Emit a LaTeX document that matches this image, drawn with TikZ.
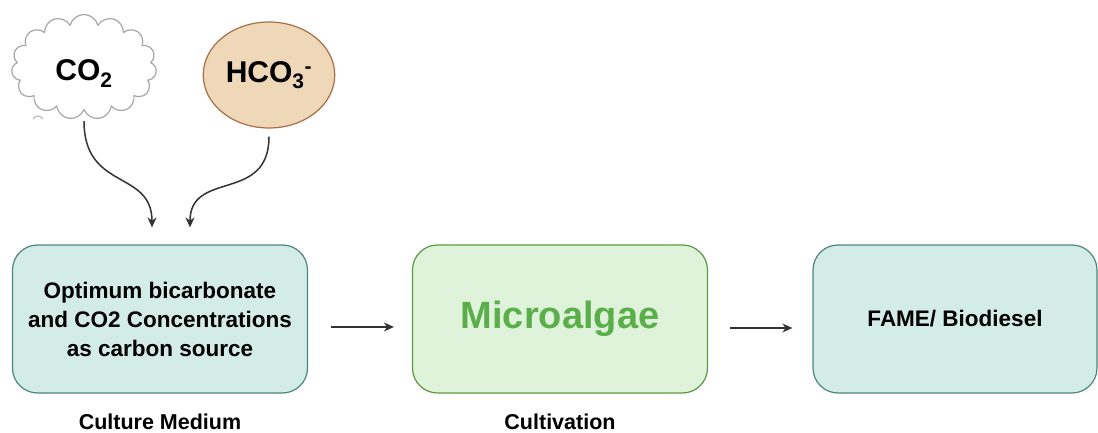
\documentclass[tikz,border=0pt]{standalone}
\usepackage{fontspec}
\setmainfont{Liberation Sans}
\usetikzlibrary{shapes.symbols, shapes.geometric, arrows.meta}

\definecolor{tealfill}{HTML}{D4ECE8}
\definecolor{tealline}{HTML}{4B877C}
\definecolor{algfill}{HTML}{DFF3DA}
\definecolor{algline}{HTML}{5A9A44}
\definecolor{algtext}{HTML}{5BAF4B}
\definecolor{ionfill}{HTML}{EED8B8}
\definecolor{ionline}{HTML}{A86E45}
\definecolor{arrowgray}{HTML}{333333}

\begin{document}
\begin{tikzpicture}[x=1pt, y=-1pt, node distance=400pt]
\tikzstyle{box} = [rectangle, rounded corners=25pt, draw=tealline, fill=tealfill, line width=1.2pt, minimum width=295pt, minimum height=148pt, align=center, font=\bfseries\fontsize{22.5}{29}\selectfont]
\tikzstyle{caption} = [font=\bfseries\fontsize{21.5}{24}\selectfont]
\tikzstyle{arrow} = [line width=1.5pt, arrowgray, -{Stealth[length=10pt,width=9pt]}]

\useasboundingbox (0,0) rectangle (1098,433);

\node (co2) [cloud, cloud puffs=15, aspect=1.4, draw=gray!70, line width=1.2pt, fill=white, minimum width=145pt, minimum height=105pt, text height=34pt, font=\bfseries\fontsize{30}{36}\selectfont] at (84,67) {CO\textsubscript{2}};
\node (hco3) [ellipse, draw=ionline, fill=ionfill, line width=1.2pt, minimum width=126pt, minimum height=106pt, font=\bfseries\fontsize{30}{36}\selectfont] at (269,75) {HCO\textsubscript{3}\textsuperscript{-}};
\draw [gray!60, line width=1pt] (33,119) .. controls (36,115) and (40,115) .. (43,119);

\node (med) [box] at (160,319) {Optimum bicarbonate\\and CO2 Concentrations\\as carbon source};
\node (alg) [box, right of=med, draw=algline, fill=algfill, text=algtext, font=\bfseries\fontsize{38}{44}\selectfont] {Microalgae};
\node (fame) [box, right of=alg, xshift=-5pt, minimum width=284pt] {FAME/ Biodiesel};

\node (medlbl) [caption, below of=med, node distance=103pt] {Culture Medium};
\node (alglbl) [caption, below of=alg, node distance=103pt] {Cultivation};

\draw [arrow] ([yshift=-10pt]co2.south) .. controls ([yshift=-80pt]co2.south) and ([xshift=-8pt,yshift=75pt]med.north) .. ([xshift=-8pt,yshift=17pt]med.north);
\draw [arrow] ([yshift=-8pt]hco3.south) .. controls ([yshift=-75pt]hco3.south) and ([xshift=30pt,yshift=75pt]med.north) .. ([xshift=30pt,yshift=17pt]med.north);

\draw [arrow] ([xshift=23pt,yshift=-8pt]med.east) -- ([xshift=-18pt,yshift=-8pt]alg.west);
\draw [arrow] ([xshift=22pt,yshift=-9pt]alg.east) -- ([xshift=-20pt,yshift=-9pt]fame.west);
\end{tikzpicture}
\end{document}
